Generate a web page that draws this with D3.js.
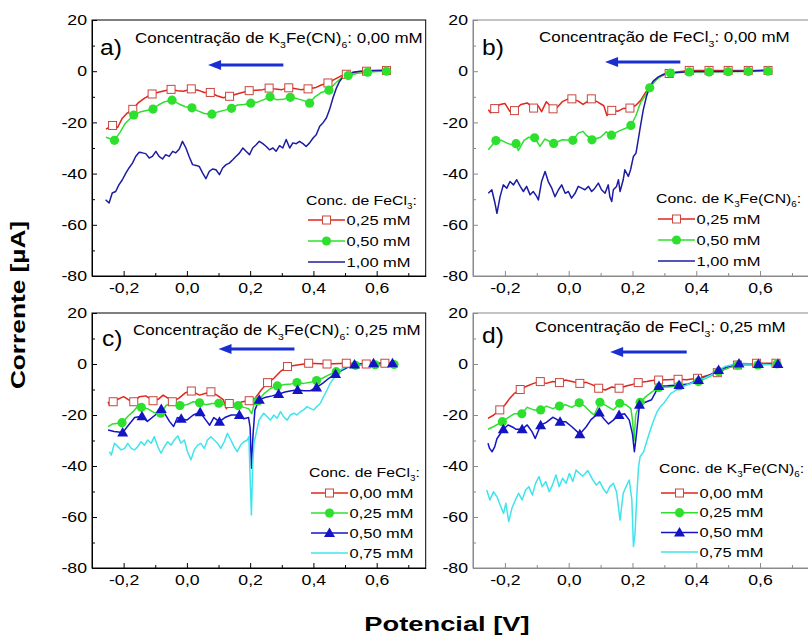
<!DOCTYPE html>
<html>
<head>
<meta charset="utf-8">
<script src="https://cdn.jsdelivr.net/npm/d3@7"></script>
<style>
  body { margin: 0; background: #fff; }
  svg { display: block; }
</style>
</head>
<body>
<div id="chart"></div>
<script>
// axis values
const xDomain = [-0.3, 0.755];
const yDomain = [-80, 20];
const xMajor = [-0.2, 0, 0.2, 0.4, 0.6];
const xMinor = [-0.1, 0.1, 0.3, 0.5, 0.7];
const yMajor = [20, 0, -20, -40, -60, -80];
const yMinor = [10, -10, -30, -50, -70];

// series: [potential V, current uA, marker?]
const aRed = [[-0.256,-22.6],[-0.235,-21.2,1],[-0.219,-22.0],[-0.205,-18.5],[-0.19,-16.5],[-0.171,-14.9,1],[-0.155,-12.5],[-0.135,-10.6],[-0.11,-8.9,1],[-0.09,-8.2],[-0.07,-7.6],[-0.05,-7.1,1],[-0.03,-7.6],[-0.01,-7.8],[0.014,-6.9,1],[0.035,-7.4],[0.055,-8.3],[0.074,-8.3,1],[0.095,-9.6],[0.115,-10.4],[0.135,-9.8,1],[0.155,-9.0],[0.175,-8.3],[0.197,-7.6,1],[0.22,-7.4],[0.24,-7.2],[0.26,-6.6,1],[0.28,-7.0],[0.3,-7.2],[0.322,-6.5,1],[0.34,-6.8],[0.36,-7.2],[0.383,-6.9,1],[0.405,-6.5],[0.425,-5.4],[0.446,-4.6,1],[0.465,-3.3],[0.485,-2.0],[0.504,-1.2,1],[0.535,-0.3],[0.568,0,1],[0.6,0.2],[0.631,0.3,1]];
const aGreen = [[-0.256,-25.8],[-0.229,-27.0,1],[-0.21,-23.6],[-0.195,-20.4],[-0.168,-17.1,1],[-0.145,-15.8],[-0.107,-14.8,1],[-0.09,-13.2],[-0.07,-11.9],[-0.047,-11.3,1],[-0.025,-12.8],[-0.005,-13.9],[0.016,-14.3,1],[0.035,-15.5],[0.055,-16.5],[0.079,-16.8,1],[0.1,-15.8],[0.12,-15.2],[0.141,-14.5,1],[0.16,-13.2],[0.18,-13.0],[0.202,-12.5,1],[0.225,-12.0],[0.245,-11.0],[0.263,-10.0,1],[0.285,-11.2],[0.305,-11.0],[0.327,-10.2,1],[0.35,-10.8],[0.37,-11.5],[0.388,-12.5,1],[0.405,-10.0],[0.425,-8.3],[0.449,-7.4,1],[0.47,-4.6],[0.49,-2.5],[0.51,-1.7,1],[0.54,-0.8],[0.571,-0.4,1],[0.6,-0.1],[0.631,0,1]];
const aBlue = [[-0.257,-50.2],[-0.246,-51.5],[-0.236,-47.6],[-0.225,-47.0],[-0.215,-44.4],[-0.204,-42.4],[-0.193,-39.8],[-0.183,-37.8],[-0.172,-35.9],[-0.162,-33.3],[-0.151,-31.7],[-0.141,-31.9],[-0.130,-32.2],[-0.119,-33.9],[-0.109,-33.3],[-0.098,-31.3],[-0.088,-33.3],[-0.077,-34.3],[-0.067,-32.6],[-0.056,-33.3],[-0.045,-31.3],[-0.035,-31.9],[-0.024,-30.4],[-0.014,-27.4],[-0.003,-30.0],[0.007,-33.3],[0.018,-36.5],[0.029,-36.8],[0.039,-37.2],[0.050,-39.8],[0.060,-42.0],[0.071,-39.1],[0.081,-38.2],[0.092,-38.5],[0.103,-40.4],[0.113,-37.8],[0.124,-36.5],[0.134,-35.9],[0.145,-34.6],[0.155,-33.3],[0.166,-32.0],[0.177,-30.0],[0.187,-31.3],[0.198,-32.6],[0.208,-30.0],[0.219,-28.7],[0.229,-27.4],[0.240,-28.3],[0.251,-29.4],[0.261,-30.7],[0.272,-30.0],[0.282,-31.3],[0.293,-29.1],[0.303,-30.0],[0.314,-26.7],[0.325,-30.0],[0.335,-28.0],[0.346,-28.3],[0.356,-27.4],[0.367,-28.3],[0.377,-29.4],[0.388,-28.0],[0.399,-26.1],[0.409,-24.8],[0.420,-21.5],[0.430,-20.2],[0.441,-18.3],[0.451,-15.0],[0.462,-10.4],[0.473,-6.5],[0.483,-3.9],[0.494,-2.2],[0.504,-1.3],[0.525,-0.4],[0.547,0],[0.589,0.3],[0.631,0.4]];

const bRed = [[-0.252,-15.0],[-0.245,-16.3],[-0.232,-14.6,1],[-0.215,-13.0],[-0.2,-12.6],[-0.185,-15.6],[-0.17,-15.4,1],[-0.15,-13.0],[-0.13,-12.4],[-0.11,-14.4,1],[-0.095,-13.6],[-0.085,-15.8],[-0.07,-11.9],[-0.049,-14.7,1],[-0.035,-14.0],[-0.02,-11.9],[-0.005,-11.0],[0.01,-10.8,1],[0.03,-11.7],[0.045,-13.0],[0.071,-10.8,1],[0.09,-12.0],[0.11,-13.5],[0.12,-17.3],[0.135,-15.3,1],[0.155,-15.6],[0.17,-14.6],[0.192,-14.4,1],[0.21,-13.4],[0.225,-11.5],[0.24,-8.5],[0.26,-5.2],[0.28,-2.6],[0.3,-1.3],[0.315,-0.9,1],[0.345,-0.2],[0.378,0.3,1],[0.44,0.3,1],[0.5,0.3,1],[0.563,0.3,1],[0.625,0.3,1]];
const bGreen = [[-0.252,-30.7],[-0.228,-27.1,1],[-0.21,-27.0],[-0.195,-28.0],[-0.18,-28.7],[-0.165,-28.3,1],[-0.158,-31.0],[-0.14,-27.0],[-0.125,-25.8],[-0.107,-26.0,1],[-0.09,-29.4],[-0.075,-26.5],[-0.047,-28.2,1],[-0.02,-26.8],[0.013,-27.0,1],[0.03,-24.2],[0.045,-23.5],[0.055,-25.0],[0.073,-26.8,1],[0.1,-25.8],[0.118,-23.7],[0.134,-25.0,1],[0.16,-23.2],[0.175,-22.5],[0.195,-21.2,1],[0.21,-17.6],[0.225,-12.4],[0.24,-9.5],[0.254,-6.5,1],[0.275,-3.3],[0.3,-1.0],[0.319,-0.7,1],[0.378,-0.3,1],[0.44,-0.3,1],[0.5,-0.2,1],[0.563,-0.1,1],[0.625,0,1]];
const bBlue = [[-0.252,-47.7],[-0.241,-46.3],[-0.231,-51.6],[-0.225,-55.5],[-0.215,-49.0],[-0.205,-44.4],[-0.194,-45.7],[-0.184,-43.1],[-0.173,-44.4],[-0.163,-42.4],[-0.152,-45.0],[-0.142,-47.0],[-0.132,-45.0],[-0.121,-48.3],[-0.111,-47.0],[-0.100,-49.0],[-0.095,-50.3],[-0.085,-43.1],[-0.074,-39.2],[-0.064,-43.1],[-0.053,-45.7],[-0.043,-49.0],[-0.032,-46.3],[-0.022,-44.4],[-0.011,-47.7],[-0.001,-47.0],[0.009,-49.6],[0.020,-47.7],[0.030,-45.0],[0.041,-45.7],[0.051,-46.3],[0.062,-45.0],[0.072,-47.0],[0.082,-45.7],[0.093,-43.7],[0.103,-46.3],[0.114,-47.7],[0.124,-44.4],[0.129,-49.0],[0.135,-50.9],[0.140,-46.3],[0.150,-45.0],[0.156,-42.4],[0.161,-47.0],[0.171,-42.4],[0.176,-38.5],[0.187,-41.1],[0.194,-38.5],[0.203,-33.3],[0.211,-32.0],[0.218,-26.8],[0.225,-21.5],[0.234,-15.0],[0.244,-9.8],[0.255,-5.9],[0.265,-3.9],[0.281,-2.2],[0.296,-1.3],[0.317,-0.7],[0.349,-0.4],[0.401,-0.1],[0.474,-0.1],[0.578,0.1],[0.62,0.4]];

const cRed = [[-0.249,-14.8],[-0.245,-16.2],[-0.233,-14.8,1],[-0.22,-13.9],[-0.2,-12.8],[-0.185,-14.0],[-0.168,-14.8,1],[-0.15,-12.8],[-0.13,-12.5],[-0.107,-14.4,1],[-0.09,-13.8],[-0.075,-12.2],[-0.06,-13.4],[-0.046,-14.8,1],[-0.025,-13.4],[-0.005,-11.3],[0.014,-10.6,1],[0.04,-12.2],[0.06,-11.5],[0.076,-10.9,1],[0.095,-12.2],[0.115,-14.0],[0.125,-17.5],[0.134,-15.5,1],[0.155,-16.0],[0.175,-14.8],[0.197,-14.4,1],[0.215,-13.5],[0.235,-10.2],[0.255,-7.3,1],[0.275,-5.6],[0.295,-3.0],[0.318,-1.0,1],[0.35,-0.4],[0.385,0.3,1],[0.443,0,1],[0.504,0.3,1],[0.567,0,1],[0.626,0.3,1]];
const cGreen = [[-0.249,-24.6],[-0.235,-23.5],[-0.205,-23.0,1],[-0.185,-20.3],[-0.17,-18.7],[-0.155,-16.5],[-0.144,-17.0,1],[-0.125,-17.5],[-0.105,-19.0],[-0.083,-19.3,1],[-0.065,-16.2],[-0.045,-15.5],[-0.022,-16.3,1],[0.0,-16.0],[0.02,-14.8],[0.04,-15.2,1],[0.06,-16.0],[0.08,-15.5],[0.101,-15.4,1],[0.12,-16.0],[0.14,-16.0],[0.162,-16.3,1],[0.18,-17.0],[0.195,-17.5],[0.205,-19.5],[0.212,-16.0],[0.224,-14.5,1],[0.245,-11.5],[0.265,-9.5],[0.286,-8.6,1],[0.31,-8.0],[0.33,-7.8],[0.348,-7.3,1],[0.37,-7.6],[0.39,-7.2],[0.41,-6.5,1],[0.43,-5.5],[0.45,-4.2],[0.472,-3.0,1],[0.5,-1.5],[0.533,-0.5,1],[0.595,-0.3,1],[0.655,-0.2,1]];
const cBlue = [[-0.249,-25.9],[-0.23,-26.5],[-0.203,-26.9,1],[-0.185,-24.0],[-0.165,-21.0],[-0.142,-20.5,1],[-0.125,-22.5],[-0.1,-20.0],[-0.081,-17.6,1],[-0.07,-19.5],[-0.055,-22.5],[-0.042,-24.5],[-0.03,-21.0],[-0.018,-21.5,1],[0.0,-22.0],[0.02,-20.0],[0.042,-18.9,1],[0.06,-22.0],[0.072,-24.0],[0.085,-21.0],[0.103,-22.6,1],[0.12,-21.0],[0.14,-20.0],[0.166,-20.0,1],[0.18,-21.5],[0.195,-21.0],[0.2,-25.0],[0.204,-40.9],[0.209,-28.0],[0.215,-18.0],[0.229,-14.0,1],[0.25,-13.0],[0.27,-12.5],[0.29,-11.8,1],[0.31,-11.0],[0.33,-10.5],[0.35,-10.2,1],[0.37,-10.5],[0.39,-10.5],[0.41,-9.2,1],[0.43,-7.5],[0.45,-5.5],[0.47,-3.9,1],[0.49,-2.5],[0.51,-1.2],[0.53,-0.2,1],[0.59,0.3,1],[0.65,0.3,1]];
const cCyan = [[-0.245,-34.4],[-0.239,-35.7],[-0.229,-31.1],[-0.218,-32.4],[-0.208,-33.7],[-0.197,-33.1],[-0.187,-31.1],[-0.176,-33.1],[-0.166,-33.7],[-0.155,-32.4],[-0.145,-30.5],[-0.134,-31.8],[-0.124,-29.8],[-0.113,-31.1],[-0.103,-28.5],[-0.092,-32.4],[-0.082,-35.0],[-0.071,-32.4],[-0.061,-30.5],[-0.05,-31.8],[-0.04,-29.8],[-0.029,-28.2],[-0.019,-31.1],[-0.008,-29.8],[0.002,-34.4],[0.013,-37.6],[0.023,-33.7],[0.034,-31.8],[0.044,-31.1],[0.055,-33.1],[0.065,-29.8],[0.076,-28.5],[0.086,-29.8],[0.097,-31.1],[0.107,-33.1],[0.118,-30.5],[0.128,-27.2],[0.139,-29.8],[0.149,-32.4],[0.159,-34.4],[0.17,-31.8],[0.18,-30.5],[0.191,-29.8],[0.196,-28.5],[0.2,-45.0],[0.204,-59.2],[0.208,-40.0],[0.212,-31.1],[0.228,-22.0],[0.243,-19.3],[0.254,-20.7],[0.264,-22.0],[0.275,-20.0],[0.285,-21.3],[0.296,-18.7],[0.306,-20.7],[0.317,-22.0],[0.327,-20.0],[0.338,-19.3],[0.348,-20.0],[0.359,-18.7],[0.369,-18.0],[0.38,-16.7],[0.39,-17.4],[0.401,-18.0],[0.411,-16.7],[0.422,-15.4],[0.432,-12.8],[0.443,-10.2],[0.453,-7.6],[0.464,-5.6],[0.474,-3.7],[0.485,-2.4],[0.495,-1.7],[0.506,-0.8],[0.527,-0.4],[0.548,-0.4],[0.59,-0.4],[0.653,-0.8]];

const dRed = [[-0.253,-21.3],[-0.235,-20.0],[-0.216,-18.0,1],[-0.2,-16.1],[-0.185,-13.5],[-0.17,-11.5],[-0.152,-10.0,1],[-0.13,-8.6],[-0.11,-7.6],[-0.089,-6.9,1],[-0.07,-7.6],[-0.05,-6.9],[-0.029,-7.3,1],[-0.01,-6.3],[0.01,-6.9],[0.035,-7.6,1],[0.055,-7.2],[0.075,-8.2],[0.094,-9.5,1],[0.115,-10.2],[0.135,-9.0],[0.158,-9.5,1],[0.18,-8.6],[0.2,-8.0],[0.218,-7.3,1],[0.245,-6.9],[0.26,-6.5],[0.282,-6.3,1],[0.31,-6.2],[0.343,-6.0,1],[0.37,-6.2],[0.404,-5.6,1],[0.435,-4.5],[0.466,-3.4,1],[0.5,-1.5],[0.529,-0.4,1],[0.589,0.3,1],[0.65,0.3,1]];
const dGreen = [[-0.253,-25.6],[-0.235,-24.5],[-0.208,-22.6,1],[-0.19,-21.0],[-0.17,-19.5],[-0.147,-19.5,1],[-0.13,-17.0],[-0.11,-18.0],[-0.088,-18.0,1],[-0.07,-16.5],[-0.05,-17.5],[-0.029,-16.5,1],[-0.01,-16.0],[0.01,-17.0],[0.033,-15.2,1],[0.05,-16.5],[0.07,-19.0],[0.08,-20.0],[0.098,-15.0,1],[0.12,-16.5],[0.14,-18.0],[0.16,-15.4,1],[0.18,-16.0],[0.195,-17.5],[0.2,-22.0],[0.205,-30.0],[0.21,-20.0],[0.224,-15.0,1],[0.24,-13.0],[0.26,-11.0],[0.283,-9.2,1],[0.31,-9.0],[0.346,-8.6,1],[0.375,-8.0],[0.407,-6.9,1],[0.44,-5.0],[0.47,-3.0,1],[0.5,-1.5],[0.531,-0.4,1],[0.593,-0.4,1],[0.653,0,1]];
const dBlue = [[-0.253,-31.1],[-0.248,-33.1],[-0.24,-34.4],[-0.232,-32.5],[-0.225,-29.3],[-0.205,-25.6,1],[-0.19,-23.9],[-0.175,-24.8],[-0.165,-25.6],[-0.146,-25.6,1],[-0.13,-23.9],[-0.115,-26.5],[-0.105,-29.2],[-0.088,-24.0,1],[-0.07,-22.9],[-0.05,-20.9],[-0.04,-21.5],[-0.027,-22.6,1],[-0.01,-22.6],[0.01,-24.6],[0.035,-27.5,1],[0.055,-24.6],[0.07,-21.8],[0.096,-19.0,1],[0.11,-21.5],[0.125,-23.5],[0.14,-22.0],[0.158,-20.0,1],[0.175,-19.5],[0.19,-22.0],[0.2,-27.5],[0.206,-34.4],[0.212,-28.0],[0.222,-16.0,1],[0.24,-15.0],[0.26,-14.0],[0.283,-8.6,1],[0.31,-8.5],[0.346,-8.2,1],[0.375,-7.8],[0.407,-6.3,1],[0.44,-4.5],[0.47,-2.4,1],[0.5,-1.0],[0.534,0.2,1],[0.595,0,1],[0.656,0,1]];
const dCyan = [[-0.257,-49.4],[-0.247,-53.3],[-0.236,-50.1],[-0.225,-52.0],[-0.215,-55.3],[-0.204,-58.6],[-0.197,-54.6],[-0.188,-61.8],[-0.178,-56.6],[-0.167,-53.3],[-0.157,-50.7],[-0.146,-53.3],[-0.135,-49.4],[-0.125,-48.1],[-0.114,-51.4],[-0.104,-46.8],[-0.093,-44.2],[-0.083,-48.1],[-0.072,-46.1],[-0.061,-50.1],[-0.051,-47.5],[-0.04,-43.5],[-0.03,-48.1],[-0.019,-44.8],[-0.008,-46.8],[0.002,-42.9],[0.013,-46.1],[0.023,-41.6],[0.034,-42.9],[0.044,-44.0],[0.06,-41.8],[0.076,-45.5],[0.087,-47.5],[0.097,-46.1],[0.108,-48.8],[0.119,-50.7],[0.129,-48.1],[0.14,-46.8],[0.15,-50.1],[0.161,-61.2],[0.171,-50.7],[0.182,-47.5],[0.19,-45.5],[0.198,-53.3],[0.203,-71.6],[0.208,-66.4],[0.214,-50.7],[0.219,-40.3],[0.224,-36.3],[0.235,-34.4],[0.246,-29.8],[0.256,-25.9],[0.267,-22.0],[0.277,-18.7],[0.288,-16.7],[0.298,-15.4],[0.309,-13.5],[0.32,-11.5],[0.33,-10.8],[0.341,-9.9],[0.362,-8.6],[0.383,-7.6],[0.404,-6.3],[0.425,-5.6],[0.447,-4.3],[0.468,-2.6],[0.489,-1.0],[0.51,-0.4],[0.542,0],[0.584,0],[0.658,-0.4]];

// legend labels and titles ([text, isSubscript])
const legendFe3 = ["0,25 mM", "0,50 mM", "1,00 mM"];
const legendMix = ["0,00 mM", "0,25 mM", "0,50 mM", "0,75 mM"];
const legTitleFe = [["Conc. de FeCl"], ["3", 1], [":"]];
const legTitleK = [["Conc. de K"], ["3", 1], ["Fe(CN)"], ["6", 1], [":"]];
const titleA = [["Concentração de K"], ["3", 1], ["Fe(CN)"], ["6", 1], [": 0,00 mM"]];
const titleB = [["Concentração de FeCl"], ["3", 1], [": 0,00 mM"]];
const titleC = [["Concentração de K"], ["3", 1], ["Fe(CN)"], ["6", 1], [": 0,25 mM"]];
const titleD = [["Concentração de FeCl"], ["3", 1], [": 0,25 mM"]];
// scan direction arrows [from x, to x, y]
const arrowA = [0.305, 0.067, 2.4];
const arrowB = [0.35, 0.114, 3.6];
const arrowC = [0.34, 0.10, 5.9];
const arrowD = [0.37, 0.13, 4.7];

const RED = "#e2261d", GREEN = "#2ee02e", NAVY = "#1c1ca2", BLUE = "#1414c4", CYAN = "#3fe4ec";
const FONT = "Liberation Sans, Arial, sans-serif";
const SX = 1.22; // the picture is a bit wide

const svg = d3.select("#chart").append("svg")
  .attr("width", 808).attr("height", 637)
  .style("font-family", FONT);

const styles = {
  red: {color: RED, marker: "square"},
  green: {color: GREEN, marker: "circle"},
  navy: {color: NAVY, marker: null},
  blue: {color: BLUE, marker: "triangle"},
  cyan: {color: CYAN, marker: null}
};

const panels = [
  {label: "a)", box: [92, 425.7, 20, 276], axis: "#000", title: titleA, titlePos: [43, 18], labelPos: [8, 27],
   series: [[aRed, "red"], [aGreen, "green"], [aBlue, "navy"]], legTitle: legTitleFe, legLabels: legendFe3,
   legPos: [216, 180, 200, 21], arrow: arrowA},
  {label: "b)", box: [473, 809.5, 20, 276], axis: "#8a8a8a", title: titleB, titlePos: [66, 17], labelPos: [9, 27],
   series: [[bRed, "red"], [bGreen, "green"], [bBlue, "navy"]], legTitle: legTitleK, legLabels: legendFe3,
   legPos: [185, 178, 199, 21], arrow: arrowB},
  {label: "c)", box: [92, 425.7, 313, 568], axis: "#000", title: titleC, titlePos: [41, 17], labelPos: [10, 25],
   series: [[cRed, "red"], [cGreen, "green"], [cBlue, "blue"], [cCyan, "cyan"]], legTitle: legTitleFe, legLabels: legendMix,
   legPos: [219, 159, 180, 20], arrow: arrowC},
  {label: "d)", box: [473, 809.5, 313, 568], axis: "#8a8a8a", title: titleD, titlePos: [62, 14], labelPos: [9, 22],
   series: [[dRed, "red"], [dGreen, "green"], [dBlue, "blue"], [dCyan, "cyan"]], legTitle: legTitleK, legLabels: legendMix,
   legPos: [188, 155, 180, 19.7], arrow: arrowD}
];

function richText(g, parts, x, y, size, sx) {
  const t = g.append("text")
    .attr("transform", `translate(${x},${y}) scale(${sx},1)`)
    .attr("font-size", size).attr("dy", "0.35em").attr("fill", "#000");
  let down = false;
  parts.forEach(p => {
    const sub = !!p[1];
    const ts = t.append("tspan").text(p[0]);
    if (sub) { ts.attr("font-size", size * 0.62).attr("dy", size * 0.3); down = true; }
    else if (down) { ts.attr("dy", -size * 0.3); down = false; }
  });
  return t;
}

function drawMarker(g, type, cx, cy, color) {
  if (type === "square") {
    g.append("rect").attr("x", cx - 4).attr("y", cy - 4).attr("width", 8).attr("height", 8)
      .attr("fill", "#fff").attr("stroke", "#c9463f").attr("stroke-width", 1);
  } else if (type === "circle") {
    g.append("circle").attr("cx", cx).attr("cy", cy).attr("r", 4.6).attr("fill", color);
  } else if (type === "triangle") {
    g.append("path").attr("d", `M${cx},${cy - 5.5}L${cx + 5.5},${cy + 4}L${cx - 5.5},${cy + 4}Z`).attr("fill", color);
  }
}

const fmtX = d => d3.format(".1f")(d).replace(".", ",").replace("−", "-");
const fmtY = d => String(d);

panels.forEach(p => {
  const [x0, x1, y0, y1] = p.box;
  const x = d3.scaleLinear().domain(xDomain).range([x0, x1]);
  const y = d3.scaleLinear().domain(yDomain).range([y1, y0]);
  const g = svg.append("g");

  // frame
  g.append("rect").attr("x", x0).attr("y", y0).attr("width", x1 - x0).attr("height", y1 - y0)
    .attr("fill", "none").attr("stroke", p.axis).attr("stroke-width", 1);

  // axes with inward ticks
  const xAx = g.append("g").attr("transform", `translate(0,${y1})`)
    .call(d3.axisBottom(x).tickValues(xMajor).tickSizeInner(-5).tickSizeOuter(0).tickPadding(5).tickFormat(fmtX));
  g.append("g").attr("transform", `translate(0,${y1})`)
    .call(d3.axisBottom(x).tickValues(xMinor).tickSizeInner(-3).tickSizeOuter(0).tickFormat(""))
    .select(".domain").remove();
  const yAx = g.append("g").attr("transform", `translate(${x0},0)`)
    .call(d3.axisLeft(y).tickValues(yMajor).tickSizeInner(-5).tickSizeOuter(0).tickPadding(5).tickFormat(fmtY));
  g.append("g").attr("transform", `translate(${x0},0)`)
    .call(d3.axisLeft(y).tickValues(yMinor).tickSizeInner(-3).tickSizeOuter(0).tickFormat(""))
    .select(".domain").remove();
  g.selectAll(".domain").attr("stroke", p.axis);
  g.selectAll(".tick line").attr("stroke", p.axis);
  xAx.selectAll("text").attr("font-size", 14.5).attr("font-family", FONT).attr("fill", "#000")
    .attr("y", 7).attr("dy", "0.71em").attr("transform", `scale(${SX},1)`);
  yAx.selectAll("text").attr("font-size", 14.5).attr("font-family", FONT).attr("fill", "#000")
    .attr("x", -5 / SX).attr("transform", `scale(${SX},1)`);

  // lines
  const line = d3.line().x(d => x(d[0])).y(d => y(d[1]));
  p.series.forEach(([data, key]) => {
    const st = styles[key];
    g.append("path").datum(data).attr("d", line).attr("fill", "none")
      .attr("stroke", st.color).attr("stroke-width", 1.5).attr("stroke-linejoin", "round");
  });
  p.series.forEach(([data, key]) => {
    const st = styles[key];
    if (!st.marker) return;
    data.filter(d => d[2]).forEach(d => drawMarker(g, st.marker, x(d[0]), y(d[1]), st.color));
  });

  // arrow
  const [ax1, ax2, ay] = p.arrow;
  const yy = y(ay);
  g.append("line").attr("x1", x(ax1)).attr("x2", x(ax2) + 10).attr("y1", yy).attr("y2", yy)
    .attr("stroke", "#1a2fd2").attr("stroke-width", 3);
  g.append("path").attr("d", `M${x(ax2)},${yy}L${x(ax2) + 13},${yy - 5}L${x(ax2) + 13},${yy + 5}Z`).attr("fill", "#1a2fd2");

  // titles
  richText(g, p.title, x0 + p.titlePos[0], y0 + p.titlePos[1], 15, 1.13);
  richText(g, [[p.label]], x0 + p.labelPos[0], y0 + p.labelPos[1], 22, 1.12);

  // legend
  const [lx, lty, ly0, ldy] = p.legPos;
  richText(g, p.legTitle, x0 + lx - 2, y0 + lty, 13.5, 1.17);
  p.legLabels.forEach((lab, i) => {
    const st = styles[p.series[i][1]];
    const yy2 = y0 + ly0 + i * ldy;
    const lxa = x0 + lx, lxb = x0 + lx + 37;
    g.append("line").attr("x1", lxa).attr("x2", lxb).attr("y1", yy2).attr("y2", yy2)
      .attr("stroke", st.color).attr("stroke-width", 1.5);
    drawMarker(g, st.marker, (lxa + lxb) / 2, yy2, st.color);
    richText(g, [[lab]], lxb + 1.5, yy2, 13.5, SX);
  });
});

// axis titles
svg.append("text").attr("transform", `translate(447,624) scale(1.3,1)`)
  .attr("text-anchor", "middle").attr("dy", "0.35em")
  .attr("font-size", 21).attr("font-weight", "bold").text("Potencial [V]");
svg.append("text").attr("transform", `translate(18,305) rotate(-90) scale(1.25,1)`)
  .attr("text-anchor", "middle").attr("dy", "0.35em")
  .attr("font-size", 21).attr("font-weight", "bold").text("Corrente [µA]");
</script>
</body>
</html>
